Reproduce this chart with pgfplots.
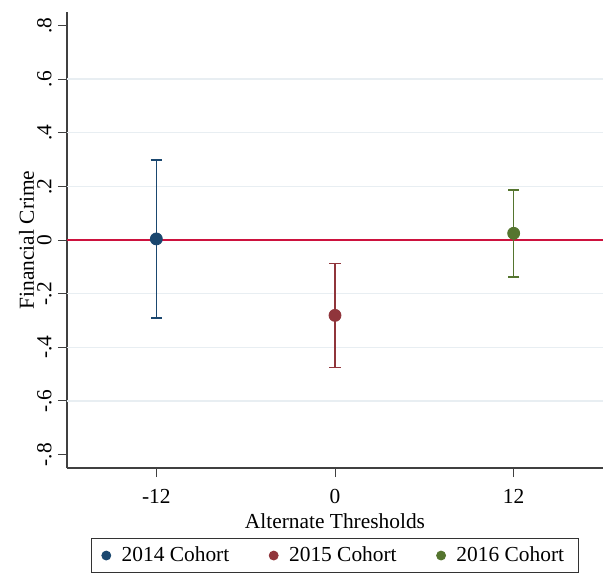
\documentclass[border=0pt]{standalone}
\usepackage{pgfplots}
\pgfplotsset{compat=1.18}
\usepackage{fontspec}
\setmainfont{Liberation Serif}

\definecolor{c14}{RGB}{26,71,111}
\definecolor{c15}{RGB}{144,53,59}
\definecolor{c16}{RGB}{85,117,47}
\definecolor{zerored}{RGB}{205,18,62}
\definecolor{gridc}{RGB}{232,238,242}

\begin{document}
\fontsize{10.7}{13}\selectfont
\begin{tikzpicture}
% page = 603x573 px at 2 px per pt, axis box at the origin
\useasboundingbox (-33.5pt,-52.5pt) rectangle (268pt,234pt);
\begin{axis}[
    name=ax,
    at={(0,0)}, anchor=south west,
    scale only axis,
    width=268pt, height=228pt,
    xmin=-18, xmax=18,
    ymin=-0.85, ymax=0.85,
    axis x line*=bottom,
    axis y line*=left,
    axis line style={black!75, line width=0.6pt},
    xtick={-12,0,12},
    xticklabels={-12,0,12},
    ytick={-0.8,-0.6,-0.4,-0.2,0,0.2,0.4,0.6,0.8},
    yticklabels={-.8,-.6,-.4,-.2,0,.2,.4,.6,.8},
    extra y ticks={-0.6,-0.4,-0.2,0.2,0.4,0.6},
    extra y tick labels={},
    extra y tick style={grid=major, major tick length=0pt},
    grid style={gridc, line width=0.7pt},
    tick style={black!75, line width=0.5pt},
    tick align=outside,
    major tick length=4.5pt,
    yticklabel shift=3pt,
    yticklabel style={rotate=90, anchor=south, inner sep=0pt, font=\fontsize{10.7}{13}\selectfont},
    xticklabel style={inner sep=0pt, yshift=-6pt, font=\fontsize{10.7}{13}\selectfont},
    xlabel={Alternate Thresholds},
    ylabel={Financial Crime},
    xlabel style={inner sep=0pt, yshift=-4.5pt, font=\fontsize{10.7}{13}\selectfont},
    ylabel style={inner sep=0pt, yshift=-9.2pt, font=\fontsize{10.7}{13}\selectfont},
    clip=false,
    legend columns=3,
    legend cell align=left,
    legend style={
        at={(axis description cs:0.5,0)}, anchor=north, yshift=-35pt,
        draw=black!80, line width=0.5pt,
        font=\fontsize{10.7}{13}\selectfont,
        inner xsep=5pt, inner ysep=2pt,
        /tikz/every odd column/.append style={column sep=3.5pt},
        /tikz/every even column/.append style={column sep=18pt},
    },
    legend image code/.code={
        \draw[#1, mark size=2.2pt] plot coordinates {(0cm,0cm)};
    },
]
\addplot[forget plot, zerored, line width=0.8pt] coordinates {(-18,0) (18,0)};

\addplot+[only marks, mark=*, mark size=3pt, color=c14, mark options={fill=c14, draw=c14},
    error bars/.cd, y dir=both, y explicit,
    error bar style={line width=0.8pt, c14},
    error mark options={rotate=90, mark size=2.8pt, line width=0.8pt, c14}]
    coordinates {(-12,0.004) +- (0,0.295)};
\addlegendentry{2014 Cohort}

\addplot+[only marks, mark=*, mark size=3pt, color=c15, mark options={fill=c15, draw=c15},
    error bars/.cd, y dir=both, y explicit,
    error bar style={line width=0.8pt, c15},
    error mark options={rotate=90, mark size=2.8pt, line width=0.8pt, c15}]
    coordinates {(0,-0.281) += (0,0.194) -= (0,0.195)};
\addlegendentry{2015 Cohort}

\addplot+[only marks, mark=*, mark size=3pt, color=c16, mark options={fill=c16, draw=c16},
    error bars/.cd, y dir=both, y explicit,
    error bar style={line width=0.8pt, c16},
    error mark options={rotate=90, mark size=2.8pt, line width=0.8pt, c16}]
    coordinates {(12,0.025) += (0,0.162) -= (0,0.162)};
\addlegendentry{2016 Cohort\hspace{6pt}}
\end{axis}
\end{tikzpicture}
\end{document}
